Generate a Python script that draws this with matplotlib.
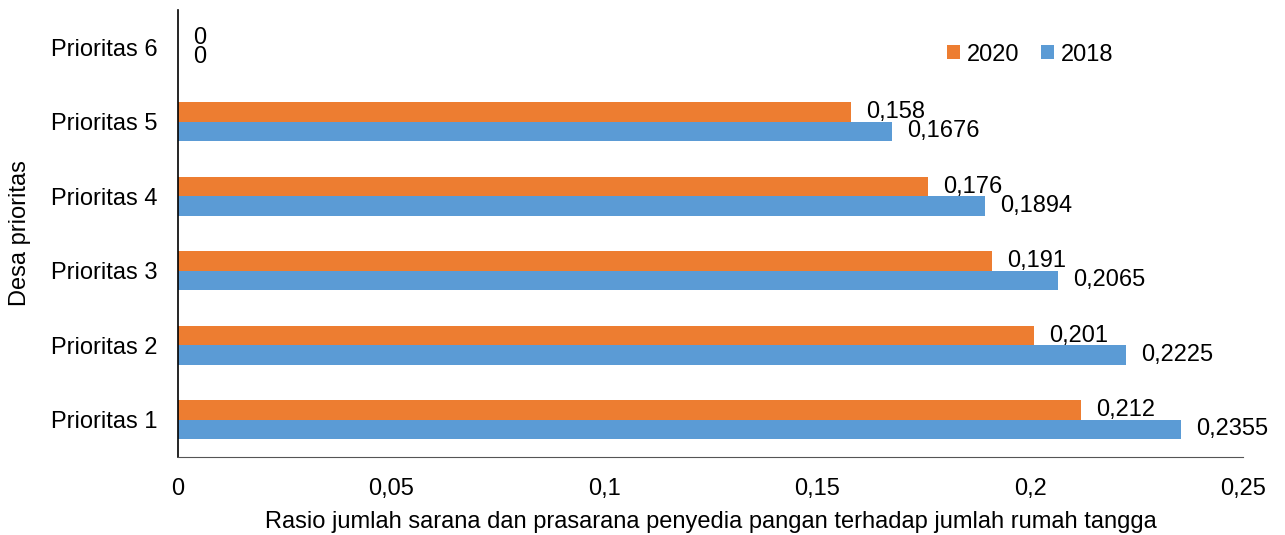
import numpy as np
import matplotlib.pyplot as plt

plt.rcParams['font.family'] = ['Liberation Sans', 'DejaVu Sans']

# Data
categories = ['Prioritas 1', 'Prioritas 2', 'Prioritas 3', 'Prioritas 4', 'Prioritas 5', 'Prioritas 6']
val_2020 = [0.212, 0.201, 0.191, 0.176, 0.158, 0]
val_2018 = [0.2355, 0.2225, 0.2065, 0.1894, 0.1676, 0]
label_2020 = ['0,212', '0,201', '0,191', '0,176', '0,158', '0']
label_2018 = ['0,2355', '0,2225', '0,2065', '0,1894', '0,1676', '0']
xticks = [0, 0.05, 0.1, 0.15, 0.2, 0.25]
xtick_labels = ['0', '0,05', '0,1', '0,15', '0,2', '0,25']

orange = '#ED7D31'
blue = '#5B9BD5'
fs = 17

fig = plt.figure(figsize=(12.85, 5.35), dpi=100)
ax = fig.add_axes([178/1285, 1 - 457/535, (1243 - 178)/1285, (457 - 10)/535])

y = np.arange(len(categories))
h = 0.26
b20 = ax.barh(y + h/2, val_2020, height=h, color=orange, label='2020')
b18 = ax.barh(y - h/2, val_2018, height=h, color=blue, label='2018')

ax.bar_label(b20, labels=label_2020, padding=11, fontsize=fs)
ax.bar_label(b18, labels=label_2018, padding=11, fontsize=fs)

ax.set_xlim(0, 0.25)
ax.set_ylim(-0.5, len(categories) - 0.5)
ax.set_xticks(xticks)
ax.set_xticklabels(xtick_labels, fontsize=fs)
ax.set_yticks(y)
ax.set_yticklabels(categories, fontsize=fs)
ax.tick_params(axis='both', length=0)
ax.tick_params(axis='x', pad=15)
ax.tick_params(axis='y', pad=15)

for s in ['top', 'right']:
    ax.spines[s].set_visible(False)
ax.spines['left'].set_color('black')
ax.spines['left'].set_linewidth(1.2)
ax.spines['bottom'].set_color('#555555')
ax.spines['bottom'].set_linewidth(0.8)

ax.set_xlabel('Rasio jumlah sarana dan prasarana penyedia pangan terhadap jumlah rumah tangga',
              fontsize=fs, labelpad=8)
ax.set_ylabel('Desa prioritas', fontsize=fs, labelpad=14)

handles = [b20, b18]
ax.legend(handles, ['2020', '2018'], loc='center right', bbox_to_anchor=(0.898, 0.9), ncol=2,
          frameon=False, fontsize=fs, handlelength=0.55, handleheight=0.55,
          handletextpad=0.3, columnspacing=0.9)

fig.savefig('out.png', dpi=100)
